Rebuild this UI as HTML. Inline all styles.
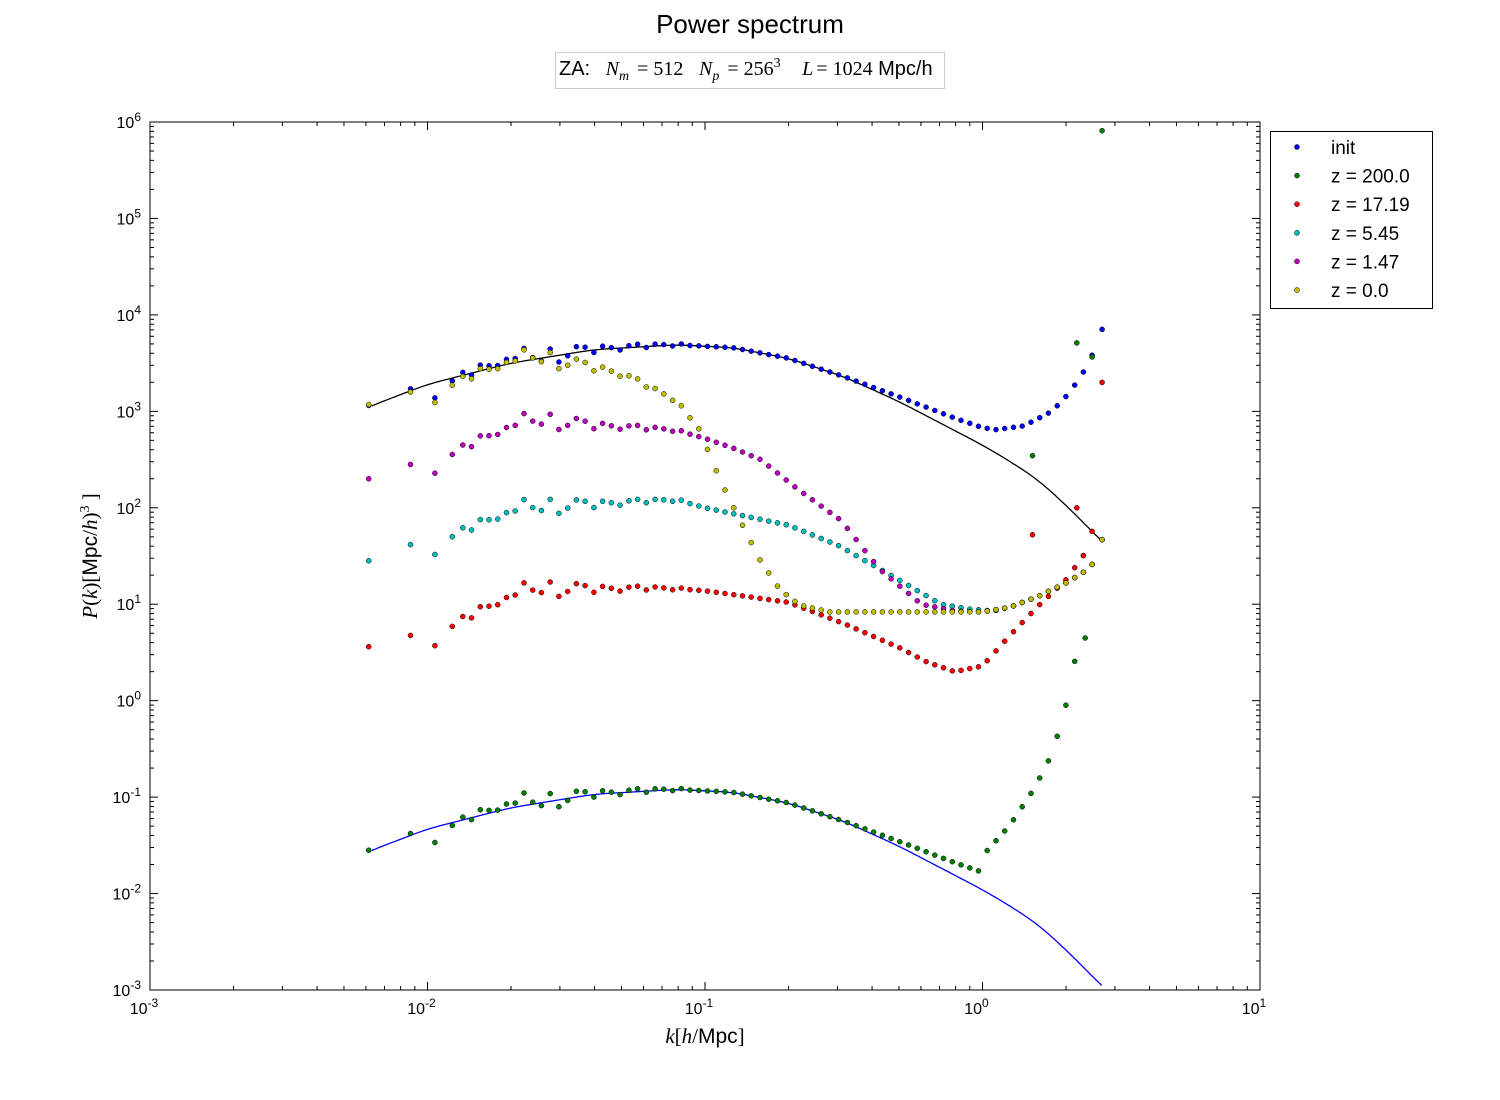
<!DOCTYPE html>
<html><head><meta charset="utf-8"><style>
body{margin:0;background:#fff;width:1500px;height:1100px;overflow:hidden}
svg{display:block}
text{font-family:"Liberation Sans",sans-serif}
.m{font-family:"Liberation Serif",serif;font-style:italic}
.r{font-family:"Liberation Serif",serif}
</style></head><body>
<svg id="s" width="1500" height="1100" xmlns="http://www.w3.org/2000/svg">
<rect width="1500" height="1100" fill="#fff"/>
<text x="750" y="33" font-size="26" text-anchor="middle">Power spectrum</text>
<rect x="555.5" y="52.5" width="389" height="36" fill="#fff" stroke="#ccc"/>
<text x="559" y="75" font-size="20">ZA:
<tspan class="m" dx="10">N</tspan><tspan class="m" font-size="14" dy="5">m</tspan><tspan class="r" dy="-5" dx="8">= 512</tspan>
<tspan class="m" dx="10">N</tspan><tspan class="m" font-size="14" dy="5">p</tspan><tspan class="r" dy="-5" dx="8">= 256</tspan><tspan class="r" font-size="14" dy="-8">3</tspan>
<tspan class="m" dy="8" dx="16">L</tspan><tspan class="r" dx="3">= 1024</tspan> Mpc/h</text>
<text x="705" y="1043" font-size="21" text-anchor="middle"><tspan class="m">k</tspan><tspan class="r">[</tspan><tspan class="m">h</tspan><tspan class="r">/</tspan>Mpc<tspan class="r">]</tspan></text>
<text transform="translate(97,556) rotate(-90)" font-size="21" text-anchor="middle"><tspan class="m">P</tspan><tspan class="r">(</tspan><tspan class="m">k</tspan><tspan class="r">)[</tspan>Mpc<tspan class="r">/</tspan><tspan class="m">h</tspan><tspan class="r">)</tspan><tspan class="r" font-size="14" dy="-8">3</tspan><tspan class="r" dy="8"> ]</tspan></text>
<g id="g"></g>
</svg>
<script>
var g=document.getElementById('g'),h='';
var X0=150,X1=1260,Y0=122,Y1=990;
function px(lk){return X0+(lk+3)*(X1-X0)/4}
function py(lp){return Y1-(lp+3)*(Y1-Y0)/9}
function interp0(t,x){if(x<=t[0][0])return t[0][1];for(var i=1;i<t.length;i++){if(x<=t[i][0]){var a=t[i-1],b=t[i];return a[1]+(b[1]-a[1])*(x-a[0])/(b[0]-a[0]);}}return t[t.length-1][1];}
function interp(t,x){var s=0;for(var j=-4;j<=4;j++)s+=interp0(t,x+j*0.012);return s/9;}
var lin=[[-2.4,2.8],[-2.2,3.06],[-2,3.28],[-1.7,3.5],[-1.4,3.64],[-1.1,3.69],[-0.9,3.66],[-0.7,3.55],[-0.5,3.36],[-0.3,3.1],[-0.1,2.8],[0,2.65],[0.1,2.48],[0.2,2.29],[0.3,2.03],[0.431,1.65],[0.6,1.2]];
for(var d=-3;d<=1;d++){var x=px(d);h+='<line x1="'+x+'" y1="'+Y1+'" x2="'+x+'" y2="'+(Y1-8)+'" stroke="#000"/><line x1="'+x+'" y1="'+Y0+'" x2="'+x+'" y2="'+(Y0+8)+'" stroke="#000"/>';
h+='<text x="'+(x-6)+'" y="1014" font-size="16" text-anchor="middle">10<tspan font-size="12" dy="-7">'+(d<0?'-'+(-d):d)+'</tspan></text>';
if(d<1)for(var m=2;m<10;m++){var xm=px(d+Math.log10(m));h+='<line x1="'+xm+'" y1="'+Y1+'" x2="'+xm+'" y2="'+(Y1-4)+'" stroke="#000"/><line x1="'+xm+'" y1="'+Y0+'" x2="'+xm+'" y2="'+(Y0+4)+'" stroke="#000"/>';}}
for(var d=-3;d<=6;d++){var y=py(d);h+='<line x1="'+X0+'" y1="'+y+'" x2="'+(X0+8)+'" y2="'+y+'" stroke="#000"/><line x1="'+X1+'" y1="'+y+'" x2="'+(X1-8)+'" y2="'+y+'" stroke="#000"/>';
h+='<text x="141" y="'+(y+6)+'" font-size="16" text-anchor="end">10<tspan font-size="12" dy="-7">'+(d<0?'-'+(-d):d)+'</tspan></text>';
if(d<6)for(var m=2;m<10;m++){var ym=py(d+Math.log10(m));h+='<line x1="'+X0+'" y1="'+ym+'" x2="'+(X0+4)+'" y2="'+ym+'" stroke="#000"/><line x1="'+X1+'" y1="'+ym+'" x2="'+(X1-4)+'" y2="'+ym+'" stroke="#000"/>';}}
var p1='',p2='';for(var lk=Math.log10(0.0063);lk<=0.4315;lk+=0.005){var v=interp(lin,lk);p1+=(p1?'L':'M')+px(lk).toFixed(1)+','+py(v).toFixed(1);p2+=(p2?'L':'M')+px(lk).toFixed(1)+','+py(v-4.61).toFixed(1);}
h+='<path d="'+p1+'" fill="none" stroke="#000" stroke-width="1.3"/><path d="'+p2+'" fill="none" stroke="#00f" stroke-width="1.3"/>';
var ks=[];for(var n=1;n<=4;n++)ks.push(Math.log10(0.00614*Math.sqrt(n)));
for(var lk=Math.log10(0.0134);lk<0.42;lk+=0.0315)ks.push(lk);ks.push(0.431);
var noise=[0,0.02,-0.16,-0.03,0.03,-0.02,0.06,0.03,0.01,0.05,0.04,0.13,0.02,-0.03,0.08,-0.07,-0.02,0.06,0.04,-0.03,0.03,0.01,-0.02,0.02,0.03,-0.01,0.02,0.01,-0.01,0.01];
function nz(i){return i<noise.length?noise[i]:0}
var rise=[[0,0.92],[0.1,0.97],[0.2,1.08],[0.3,1.22],[0.38,1.36],[0.42,1.5],[0.431,1.67]];
var initT=lin.slice(1,9).concat([[-0.3,3.15],[-0.1,2.93],[0,2.83],[0.05,2.81],[0.15,2.85],[0.25,3.0],[0.3,3.15],[0.35,3.34],[0.38,3.49],[0.41,3.67],[0.431,3.85]]);
function pt(lk,v,c){return '<circle cx="'+px(lk).toFixed(1)+'" cy="'+py(v).toFixed(1)+'" r="2.5" fill="'+c+'" stroke="#000" stroke-width="0.5"/>';}
var S=[
{c:'#0000ff',t:initT},
{c:'#007f00',t:initT.map(function(a){return [a[0],a[1]-4.61]}).slice(0,11).concat([[0.009,-1.58],[0.099,-1.29],[0.171,-0.98],[0.232,-0.67],[0.29,-0.2],[0.315,0.16],[0.351,0.68],[0.431,5.91]]),ex:[[0.18,2.54],[0.34,3.71],[0.37,0.65]]},
{c:'#ff0000',t:[[-2.2,0.56],[-2,0.7],[-1.6,1.15],[-1.1,1.16],[-1,1.14],[-0.7,1.02],[-0.5,0.8],[-0.3,0.55],[-0.2,0.4],[-0.1,0.3],[0,0.36],[0.1,0.68],[0.2,0.98],[0.3,1.25],[0.38,1.57],[0.42,2.06],[0.431,3.3]],ex:[[0.18,1.72],[0.34,2.0]]},
{c:'#00bfbf',t:[[-2.2,1.45],[-2.06,1.6],[-1.6,2.0],[-1.1,2.08],[-1,2.0],[-0.7,1.82],[-0.52,1.61],[-0.3,1.25],[-0.15,1.0],[-0.05,0.95],[0.04,0.93],[0.1,0.97],[0.2,1.08],[0.3,1.22],[0.38,1.36],[0.42,1.5],[0.431,1.67]]},
{c:'#bf00bf',t:[[-2.2,2.3],[-2.06,2.43],[-1.6,2.9],[-1.4,2.85],[-1.1,2.8],[-1,2.72],[-0.9,2.62],[-0.8,2.5],[-0.66,2.18],[-0.51,1.87],[-0.37,1.36],[-0.22,1.0],[-0.1,0.93]].concat(rise)},
{c:'#bfbf00',t:[[-2.2,3.07],[-1.6,3.55],[-1.5,3.5],[-1.4,3.45],[-1.3,3.38],[-1.23,3.29],[-1.1,3.1],[-1.02,2.81],[-0.946,2.29],[-0.874,1.87],[-0.802,1.46],[-0.73,1.15],[-0.658,0.99],[-0.55,0.92]].concat(rise)}];
S.forEach(function(s){ks.forEach(function(lk,i){h+=pt(lk,interp0(s.t,lk)+nz(i),s.c);});
(s.ex||[]).forEach(function(e){h+=pt(e[0],e[1],s.c);});});
h+='<rect x="'+X0+'" y="'+Y0+'" width="'+(X1-X0)+'" height="'+(Y1-Y0)+'" fill="none" stroke="#000"/>';
h+='<rect x="1270.5" y="131.5" width="162" height="177" fill="#fff" stroke="#000"/>';
var L=['init','z = 200.0','z = 17.19','z = 5.45','z = 1.47','z = 0.0'];
L.forEach(function(t,i){var y=147+i*28.6;h+='<circle cx="1297" cy="'+y+'" r="2.5" fill="'+S[i].c+'" stroke="#000" stroke-width="0.5"/><text x="1331" y="'+(y+7)+'" font-size="19">'+t+'</text>';});
g.innerHTML=h;
</script>
</body></html>
